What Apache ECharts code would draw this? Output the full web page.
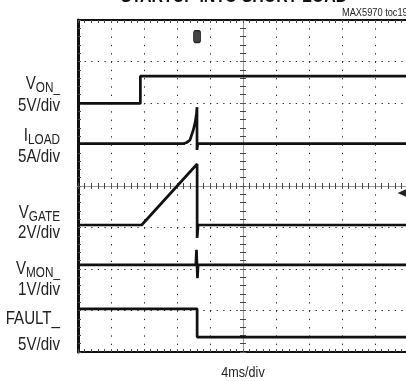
<!DOCTYPE html>
<html>
<head>
<meta charset="utf-8">
<script src="https://cdn.jsdelivr.net/npm/echarts@6/dist/echarts.min.js"></script>
<style>html,body{margin:0;padding:0;background:#fff;}#c{width:406px;height:381px;}</style>
</head>
<body>
<div id="c"></div>
<script>
// Units: x and y in scope divisions, centred on the screen (x -5..5 = 10 div of 4ms, y -4..4 = 8 div)
const titleText = 'STARTUP INTO SHORT LOAD';
const tocText = 'MAX5970 toc19';
const xLabel = '4ms/div';
const channelNames = ['V{s|ON_}', 'I{s|LOAD}', 'V{s|GATE}', 'V{s|MON_}', 'FAULT_'];
const channelScales = ['5V/div', '5A/div', '2V/div', '1V/div', '5V/div'];
const nameY = [84, 136, 213, 269, 319];
const scaleY = [106, 157, 233, 290, 345];

const vonTrace = [[-5, 1.99], [-3.11, 1.99], [-3.11, 2.65], [5, 2.65]];
const iloadTrace = [[-5, 1.02], [-1.82, 1.02], [-1.7, 1.05], [-1.606, 1.11], [-1.506, 1.35], [-1.445, 1.55], [-1.41, 1.75], [-1.394, 1.9], [-1.394, 0.87], [-1.37, 1.02], [5, 1.02]];
const vgateTrace = [[-5, -0.94], [-3.07, -0.94], [-1.39, 0.53], [-1.39, -1.25], [-1.36, -0.94], [5, -0.94]];
const vmonTrace = [[-5, -1.9], [-1.43, -1.9], [-1.41, -1.54], [-1.38, -2.22], [-1.36, -1.9], [5, -1.9]];
const faultTrace = [[-5, -2.96], [-1.39, -2.96], [-1.39, -3.64], [5, -3.64]];
const triggerX = -1.39;
const groundMarkY = -0.17;

const FONT = '"Liberation Sans",Arial,sans-serif';
const NARROW = 0.84;

const chart = echarts.init(document.getElementById('c'), null, {renderer: 'canvas'});

const dotX = {color: '#222', width: 1, type: [1.3, 5.3]};
const dotY = {color: '#222', width: 1, type: [1.3, 7]};

function axisX(pos, onZero, showSplit, col, w, inside) {
  return {
    type: 'value', min: -5, max: 5, interval: 1, position: pos,
    axisLine: {show: true, onZero: onZero, lineStyle: {color: col, width: w}},
    axisTick: {show: true, length: 3, inside: inside, lineStyle: {color: '#555'}},
    minorTick: {show: true, splitNumber: 5, length: 3, lineStyle: {color: '#444'}},
    axisLabel: {show: false},
    splitLine: {show: showSplit, lineStyle: dotY},
    minorSplitLine: {show: false}
  };
}
function axisY(pos, onZero, showSplit, col, w, inside) {
  return {
    type: 'value', min: -4, max: 4, interval: 1, position: pos,
    axisLine: {show: true, onZero: onZero, lineStyle: {color: col, width: w}},
    axisTick: {show: true, length: 3, inside: inside, lineStyle: {color: '#555'}},
    minorTick: {show: true, splitNumber: 5, length: 3, lineStyle: {color: '#444'}},
    axisLabel: {show: false},
    splitLine: {show: showSplit, lineStyle: dotX},
    minorSplitLine: {show: false}
  };
}

function trace(data, extra) {
  return Object.assign({
    type: 'line', data: data, showSymbol: false, symbol: 'none',
    lineStyle: {color: '#111', width: 2.7}, z: 5, animation: false
  }, extra || {});
}

const graphics = [];
graphics.push({type: 'text', x: 234, y: 6, scaleX: NARROW, style: {text: titleText, font: 'bold 19px ' + FONT, fill: '#111', align: 'center', verticalAlign: 'bottom'}});
graphics.push({type: 'text', x: 342, y: 13, scaleX: NARROW, style: {text: tocText, font: '11px ' + FONT, fill: '#222', align: 'left', verticalAlign: 'middle'}});
graphics.push({type: 'text', x: 243, y: 373, scaleX: NARROW, style: {text: xLabel, font: '15px ' + FONT, fill: '#222', align: 'center', verticalAlign: 'middle'}});
for (let i = 0; i < channelNames.length; i++) {
  graphics.push({type: 'text', x: 60, y: nameY[i], scaleX: NARROW, style: {
    text: channelNames[i], align: 'right', verticalAlign: 'middle', fill: '#222',
    font: '18px ' + FONT,
    rich: {s: {fontFamily: FONT, fontSize: 14, fill: '#222', verticalAlign: 'bottom', lineHeight: 23}}
  }});
  graphics.push({type: 'text', x: 60, y: scaleY[i], scaleX: NARROW, style: {text: channelScales[i], align: 'right', verticalAlign: 'middle', fill: '#222', font: '18px ' + FONT}});
}

chart.setOption({
  animation: false,
  backgroundColor: '#fff',
  grid: {left: 78, top: 20, width: 330, height: 332, show: false, outerBoundsMode: 'none', containLabel: false},
  xAxis: [
    axisX('bottom', true, true, '#999', 1, false),
    axisX('top', true, false, '#999', 1, false),
    axisX('top', false, false, '#111', 2, true),
    axisX('bottom', false, false, '#111', 2, true)
  ],
  yAxis: [
    axisY('left', true, true, '#999', 1, false),
    axisY('right', true, false, '#999', 1, false),
    axisY('left', false, false, '#111', 3, true)
  ],
  graphic: graphics,
  series: [
    trace(vonTrace),
    trace(iloadTrace),
    trace(vgateTrace),
    trace(vmonTrace),
    trace(faultTrace, {
      markPoint: {
        silent: true, animation: false,
        data: [
          {coord: [triggerX, 3.6], symbol: 'roundRect', symbolSize: [7, 12], itemStyle: {color: '#444', borderColor: '#222', borderWidth: 1}, label: {show: false}},
          {coord: [4.82, groundMarkY], symbol: 'triangle', symbolRotate: 90, symbolSize: [8, 9], itemStyle: {color: '#222'}, label: {show: false}}
        ]
      }
    })
  ]
});
</script>
</body>
</html>
